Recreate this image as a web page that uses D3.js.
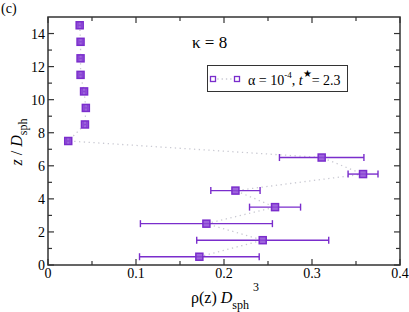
<!DOCTYPE html>
<html>
<head>
<meta charset="utf-8">
<script src="https://cdn.jsdelivr.net/npm/d3@7"></script>
<style>
  body { margin: 0; background: #fff; }
</style>
</head>
<body>
<div class="svg-container"></div>
<script>
const width = 409
const height = 312
const margin = { left: 48, right: 9, top: 17, bottom: 47 }

// density profile, bins of z / D_sph
const zValues = [0.5, 1.5, 2.5, 3.5, 4.5, 5.5, 6.5, 7.5, 8.5, 9.5, 10.5, 11.5, 12.5, 13.5, 14.5]
const rhoValues = [0.172, 0.244, 0.180, 0.258, 0.213, 0.358, 0.311, 0.023, 0.042, 0.043, 0.041, 0.037, 0.037, 0.037, 0.036]
const rhoErrors = [0.068, 0.075, 0.075, 0.029, 0.028, 0.017, 0.048, 0.002, 0.002, 0.002, 0.002, 0.002, 0.002, 0.002, 0.002]

const xTicks = [0, 0.1, 0.2, 0.3, 0.4]
const yTicks = [0, 2, 4, 6, 8, 10, 12, 14]

const purple = '#7a2dcc'
const serif = "'Liberation Serif', 'Times New Roman', Times, serif"

const svg = d3
  .select('.svg-container')
  .append('svg')
  .attr('width', width)
  .attr('height', height)
  .attr('font-family', serif)
  .style('display', 'block')

const xScale = d3
  .scaleLinear()
  .domain([0, 0.4])
  .range([margin.left, width - margin.right])

const yScale = d3
  .scaleLinear()
  .domain([0, 15])
  .range([height - margin.bottom, margin.top])

const x0 = xScale.range()[0], x1 = xScale.range()[1]
const y0 = yScale.range()[0], y1 = yScale.range()[1]

// minor + major ticks, all pointing inward
const xMinor = d3.range(0.05, 0.4, 0.1)
const yMinor = d3.range(1, 15, 2)

function tickLines(g, vals, len, horizontal) {
  vals.forEach((v) => {
    if (horizontal) {
      const x = xScale(v)
      g.append('line').attr('x1', x).attr('x2', x).attr('y1', y0).attr('y2', y0 - len)
      g.append('line').attr('x1', x).attr('x2', x).attr('y1', y1).attr('y2', y1 + len)
    } else {
      const y = yScale(v)
      g.append('line').attr('y1', y).attr('y2', y).attr('x1', x0).attr('x2', x0 + len)
      g.append('line').attr('y1', y).attr('y2', y).attr('x1', x1).attr('x2', x1 - len)
    }
  })
}

const ticksG = svg.append('g').attr('stroke', '#333').attr('stroke-width', 1.2)
tickLines(ticksG, xTicks, 6, true)
tickLines(ticksG, xMinor, 4, true)
tickLines(ticksG, yTicks, 6, false)
tickLines(ticksG, yMinor, 4, false)

svg
  .append('rect')
  .attr('x', x0)
  .attr('y', y1)
  .attr('width', x1 - x0)
  .attr('height', y0 - y1)
  .attr('fill', 'none')
  .attr('stroke', '#333')
  .attr('stroke-width', 1.5)

// tick labels
svg
  .append('g')
  .selectAll('text')
  .data(xTicks)
  .enter()
  .append('text')
  .attr('x', (d) => xScale(d))
  .attr('y', y0 + 13)
  .attr('text-anchor', 'middle')
  .attr('font-size', 14)
  .text((d) => d)

svg
  .append('g')
  .selectAll('text')
  .data(yTicks)
  .enter()
  .append('text')
  .attr('x', x0 - 3)
  .attr('y', (d) => yScale(d) + 5)
  .attr('text-anchor', 'end')
  .attr('font-size', 14)
  .text((d) => d)

// dotted connecting line
const points = zValues.map((z, i) => ({ z: z, rho: rhoValues[i], err: rhoErrors[i] }))

svg
  .append('path')
  .datum(points)
  .attr('fill', 'none')
  .attr('stroke', '#c9c9d2')
  .attr('stroke-width', 1.3)
  .attr('stroke-dasharray', '1.3,3.5')
  .attr('d', d3.line().x((d) => xScale(d.rho)).y((d) => yScale(d.z)))

// error bars
const bars = svg.append('g').attr('stroke', purple).attr('stroke-width', 1.4)
points.forEach((d) => {
  const y = yScale(d.z)
  const xa = xScale(d.rho - d.err), xb = xScale(d.rho + d.err)
  bars.append('line').attr('x1', xa).attr('x2', xb).attr('y1', y).attr('y2', y)
  bars.append('line').attr('x1', xa).attr('x2', xa).attr('y1', y - 3.5).attr('y2', y + 3.5)
  bars.append('line').attr('x1', xb).attr('x2', xb).attr('y1', y - 3.5).attr('y2', y + 3.5)
})

// square markers
svg
  .append('g')
  .selectAll('rect')
  .data(points)
  .enter()
  .append('rect')
  .attr('x', (d) => xScale(d.rho) - 3.5)
  .attr('y', (d) => yScale(d.z) - 3.5)
  .attr('width', 7)
  .attr('height', 7)
  .attr('fill', '#8d4ad6')
  .attr('fill-opacity', 0.85)
  .attr('stroke', purple)
  .attr('stroke-width', 1.5)

// panel label and kappa
svg.append('text').attr('x', 1).attr('y', 13).attr('font-size', 14).text('(c)')
svg.append('text').attr('x', 192).attr('y', 48).attr('font-size', 17).text('κ = 8')

// legend
const legend = svg.append('g')
legend
  .append('rect')
  .attr('x', 207.5)
  .attr('y', 65.5)
  .attr('width', 140)
  .attr('height', 26)
  .attr('fill', '#fff')
  .attr('stroke', '#333')
  .attr('stroke-width', 1)
legend
  .append('line')
  .attr('x1', 213)
  .attr('x2', 237)
  .attr('y1', 79)
  .attr('y2', 79)
  .attr('stroke', '#c9c9d2')
  .attr('stroke-width', 1.3)
  .attr('stroke-dasharray', '1.3,3')
;[213, 237].forEach((x) => {
  legend
    .append('rect')
    .attr('x', x - 2.5)
    .attr('y', 76.5)
    .attr('width', 5)
    .attr('height', 5)
    .attr('fill', '#fff')
    .attr('stroke', purple)
    .attr('stroke-width', 1.3)
})
const lt = legend.append('text').attr('x', 248).attr('y', 85).attr('font-size', 14)
lt.append('tspan').text('α = 10')
lt.append('tspan').attr('dy', -7).attr('font-size', 9).text('-4')
lt.append('tspan').attr('dy', 7).text(', ')
lt.append('tspan').attr('font-style', 'italic').text('t')
lt.append('tspan').attr('dy', -8).attr('font-size', 10).text('★')
lt.append('tspan').attr('dy', 8).text('= 2.3')

// axis titles
const xt = svg
  .append('text')
  .attr('x', 225)
  .attr('y', 303)
  .attr('text-anchor', 'middle')
  .attr('font-size', 16)
xt.append('tspan').text('ρ(z) ')
xt.append('tspan').attr('font-style', 'italic').text('D')
xt.append('tspan').attr('dy', 6).attr('font-size', 12).text('sph')
xt.append('tspan').attr('dy', -18).attr('dx', 4).attr('font-size', 12).text('3')

const yt = svg
  .append('text')
  .attr('transform', 'translate(22,142) rotate(-90)')
  .attr('text-anchor', 'middle')
  .attr('font-size', 16)
yt.append('tspan').attr('font-style', 'italic').text('z')
yt.append('tspan').text(' / ')
yt.append('tspan').attr('font-style', 'italic').text('D')
yt.append('tspan').attr('dy', 5).attr('font-size', 12).text('sph')
</script>
</body>
</html>
